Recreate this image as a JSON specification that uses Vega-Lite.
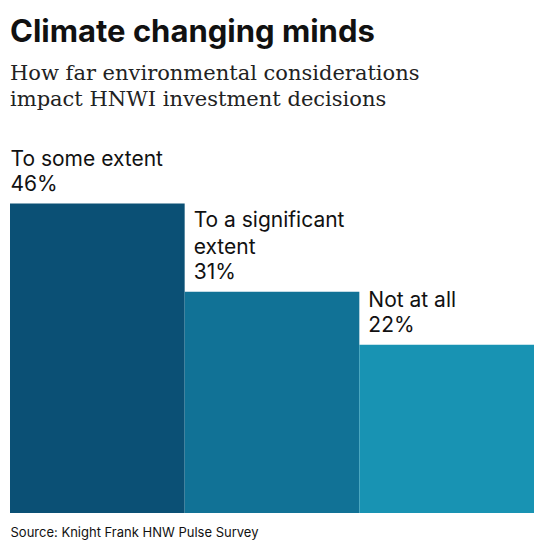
{
  "$schema": "https://vega.github.io/schema/vega-lite/v6.json",
  "width": 524,
  "height": 372,
  "padding": {"left": 10, "top": 17, "right": 22, "bottom": 5},
  "autosize": {"type": "pad"},
  "background": "white",
  "title": {
    "text": "Climate changing minds",
    "subtitle": ["How far environmental considerations", "impact HNWI investment decisions"],
    "anchor": "start",
    "frame": "group",
    "font": "Inter",
    "fontSize": 31,
    "fontWeight": 700,
    "color": "#111111",
    "subtitleFont": "DejaVu Serif",
    "subtitleFontSize": 21,
    "subtitleColor": "#222222",
    "subtitleLineHeight": 26,
    "subtitlePadding": 14,
    "offset": 30
  },
  "data": {
    "values": [
      {"answer": "To some extent", "label": "To some extent", "pct": 0.46},
      {"answer": "To a significant extent", "label": "To a significant|extent", "pct": 0.31},
      {"answer": "Not at all", "label": "Not at all", "pct": 0.22}
    ]
  },
  "encoding": {
    "y": {"field": "pct", "type": "quantitative", "scale": {"domain": [-0.0665, 0.5665], "nice": false, "zero": false}, "axis": null}
  },
  "layer": [
    {
      "mark": {"type": "bar"},
      "encoding": {
        "x": {"field": "answer", "type": "nominal", "sort": null, "title": "Source: Knight Frank HNW Pulse Survey", "scale": {"paddingInner": 0, "paddingOuter": 0}},
        "y2": {"datum": -0.0665},
        "color": {
          "field": "answer", "type": "nominal", "sort": null,
          "scale": {"domain": ["To some extent", "To a significant extent", "Not at all"], "range": ["#0b5075", "#117296", "#1893b3"]},
          "legend": null
        }
      }
    },
    {
      "transform": [{"filter": "datum.answer == 'To some extent'"}],
      "encoding": {
        "x": {"field": "answer", "type": "nominal", "sort": null, "bandPosition": 0, "title": "Source: Knight Frank HNW Pulse Survey"}
      },
      "layer": [
        {"mark": {"type": "text", "align": "left", "baseline": "alphabetic", "dx": 0.5, "dy": -38, "lineBreak": "|", "lineHeight": 26.5, "font": "Inter", "fontSize": 21, "color": "#111111"},
         "encoding": {"text": {"field": "label", "type": "nominal"}}},
        {"mark": {"type": "text", "align": "left", "baseline": "alphabetic", "dx": 0.5, "dy": -13, "font": "Inter", "fontSize": 21, "color": "#111111"},
         "encoding": {"text": {"field": "pct", "type": "quantitative", "format": ".0%"}}}
      ]
    },
    {
      "transform": [{"filter": "datum.answer == 'To a significant extent'"}],
      "encoding": {
        "x": {"field": "answer", "type": "nominal", "sort": null, "bandPosition": 0, "title": "Source: Knight Frank HNW Pulse Survey"}
      },
      "layer": [
        {"mark": {"type": "text", "align": "left", "baseline": "alphabetic", "dx": 9, "dy": -64.5, "lineBreak": "|", "lineHeight": 26.5, "font": "Inter", "fontSize": 21, "color": "#111111"},
         "encoding": {"text": {"field": "label", "type": "nominal"}}},
        {"mark": {"type": "text", "align": "left", "baseline": "alphabetic", "dx": 9, "dy": -13, "font": "Inter", "fontSize": 21, "color": "#111111"},
         "encoding": {"text": {"field": "pct", "type": "quantitative", "format": ".0%"}}}
      ]
    },
    {
      "transform": [{"filter": "datum.answer == 'Not at all'"}],
      "encoding": {
        "x": {"field": "answer", "type": "nominal", "sort": null, "bandPosition": 0, "title": "Source: Knight Frank HNW Pulse Survey"}
      },
      "layer": [
        {"mark": {"type": "text", "align": "left", "baseline": "alphabetic", "dx": 9, "dy": -38, "lineBreak": "|", "lineHeight": 26.5, "font": "Inter", "fontSize": 21, "color": "#111111"},
         "encoding": {"text": {"field": "label", "type": "nominal"}}},
        {"mark": {"type": "text", "align": "left", "baseline": "alphabetic", "dx": 9, "dy": -13, "font": "Inter", "fontSize": 21, "color": "#111111"},
         "encoding": {"text": {"field": "pct", "type": "quantitative", "format": ".0%"}}}
      ]
    }
  ],
  "config": {
    "view": {"stroke": null},
    "axisX": {"labels": false, "ticks": false, "domain": false, "grid": false, "titleAnchor": "start", "titlePadding": 13, "titleFont": "Inter", "titleFontSize": 13, "titleFontWeight": 400, "titleColor": "#111111"}
  }
}
